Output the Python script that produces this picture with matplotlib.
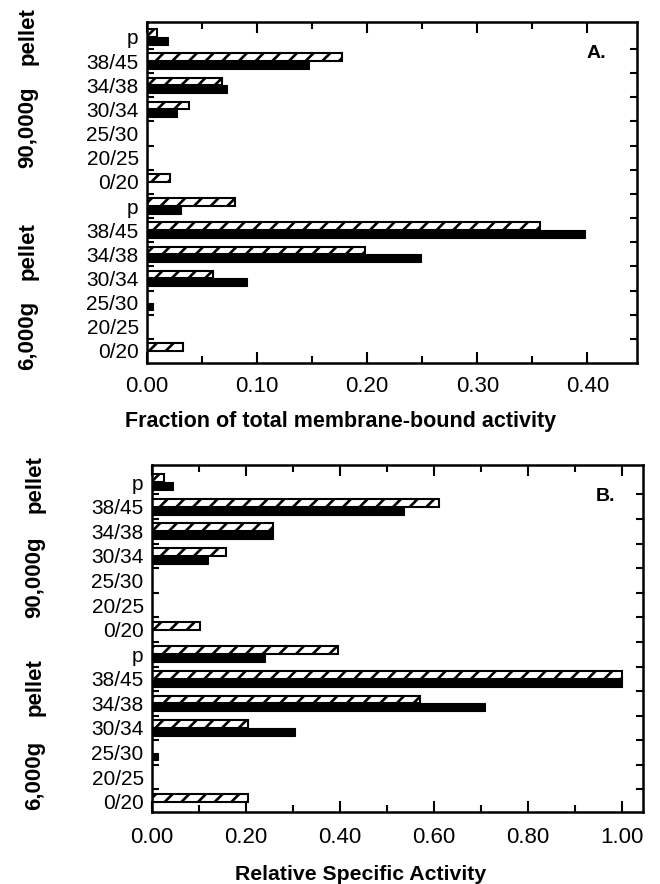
import matplotlib
matplotlib.use("Agg")
import matplotlib.pyplot as plt
from matplotlib.ticker import MultipleLocator, FixedLocator

plt.rcParams["font.family"] = ["Liberation Sans", "DejaVu Sans"]
plt.rcParams["hatch.linewidth"] = 1.9

# Fractions, bottom to top: 6,000g pellet group then 90,000g pellet group
fractions = ["0/20", "20/25", "25/30", "30/34", "34/38", "38/45", "p",
             "0/20", "20/25", "25/30", "30/34", "34/38", "38/45", "p"]

# Panel A: fraction of total membrane-bound activity
a_hatched = [0.033, 0.0, 0.0, 0.060, 0.198, 0.357, 0.080,
             0.021, 0.0, 0.0, 0.038, 0.068, 0.177, 0.009]
a_solid = [0.0, 0.0, 0.005, 0.091, 0.249, 0.398, 0.031,
           0.0, 0.0, 0.0, 0.027, 0.073, 0.147, 0.019]

# Panel B: relative specific activity
b_hatched = [0.205, 0.0, 0.0, 0.205, 0.570, 1.0, 0.396,
             0.102, 0.0, 0.0, 0.157, 0.257, 0.611, 0.026]
b_solid = [0.0, 0.0, 0.013, 0.304, 0.709, 1.0, 0.240,
           0.0, 0.0, 0.0, 0.120, 0.257, 0.536, 0.045]

a_ticks = [0.0, 0.1, 0.2, 0.3, 0.4]
b_ticks = [0.0, 0.2, 0.4, 0.6, 0.8, 1.0]

fig = plt.figure(figsize=(6.6, 8.84), dpi=100)
ax_a = fig.add_axes([147 / 660, 1 - 363 / 884, 490 / 660, 341 / 884])
ax_b = fig.add_axes([152 / 660, 1 - 812 / 884, 491 / 660, 347 / 884])


def draw_panel(ax, hatched, solid, ticks, xmax, minor, ylim, tag, tag_xy, pad):
    pos = list(range(len(fractions)))
    h = 0.32
    ax.barh([p + 0.16 for p in pos], hatched, height=h, color="white",
            edgecolor="black", hatch="//", linewidth=1.5)
    ax.barh([p - 0.16 for p in pos], solid, height=h, color="black",
            edgecolor="black", linewidth=0.8)
    ax.set_xlim(0, xmax)
    ax.set_ylim(*ylim)
    ax.set_yticks(pos)
    ax.set_yticklabels(fractions, fontsize=15)
    ax.yaxis.set_minor_locator(FixedLocator([p + 0.5 for p in pos[:-1]]))
    ax.set_xticks(ticks)
    ax.set_xticklabels(["%.2f" % t for t in ticks], fontsize=16)
    ax.xaxis.set_minor_locator(MultipleLocator(minor))
    ax.tick_params(axis="y", which="major", length=0, pad=6)
    ax.tick_params(axis="y", which="minor", direction="in", length=5,
                   width=1.5, left=True, right=True)
    ax.tick_params(axis="x", which="major", direction="in", length=8,
                   width=1.5, top=True, bottom=True, pad=pad)
    ax.tick_params(axis="x", which="minor", direction="in", length=5,
                   width=1.5, top=True, bottom=True)
    for s in ax.spines.values():
        s.set_linewidth(1.8)
    ax.text(*tag_xy, tag, transform=ax.transAxes, fontsize=14,
            fontweight="bold", ha="center", va="center")


draw_panel(ax_a, a_hatched, a_solid, a_ticks, 0.445, 0.05, (-0.5, 13.62),
           "A.", (0.918, 0.909), 9.5)
draw_panel(ax_b, b_hatched, b_solid, b_ticks, 1.045, 0.1, (-0.42, 13.7),
           "B.", (0.923, 0.908), 11)

lab = dict(fontsize=16, fontweight="bold", rotation=90, ha="center", va="center")
for y, s in [(36, "pellet"), (127, "90,000g"), (251, "pellet"), (335, "6,000g")]:
    fig.text(28 / 660, 1 - y / 884, s, **lab)
for y, s in [(484, "pellet"), (577, "90,000g"), (687, "pellet"), (775, "6,000g")]:
    fig.text(35 / 660, 1 - y / 884, s, **lab)

fig.text(341 / 660, 1 - 421 / 884, "Fraction of total membrane-bound activity",
         fontsize=15.5, fontweight="bold", ha="center", va="center")
fig.text(361 / 660, 1 - 875 / 884, "Relative Specific Activity",
         fontsize=15.3, fontweight="bold", ha="center", va="center")

fig.savefig("out.png", dpi=100, facecolor="white")
